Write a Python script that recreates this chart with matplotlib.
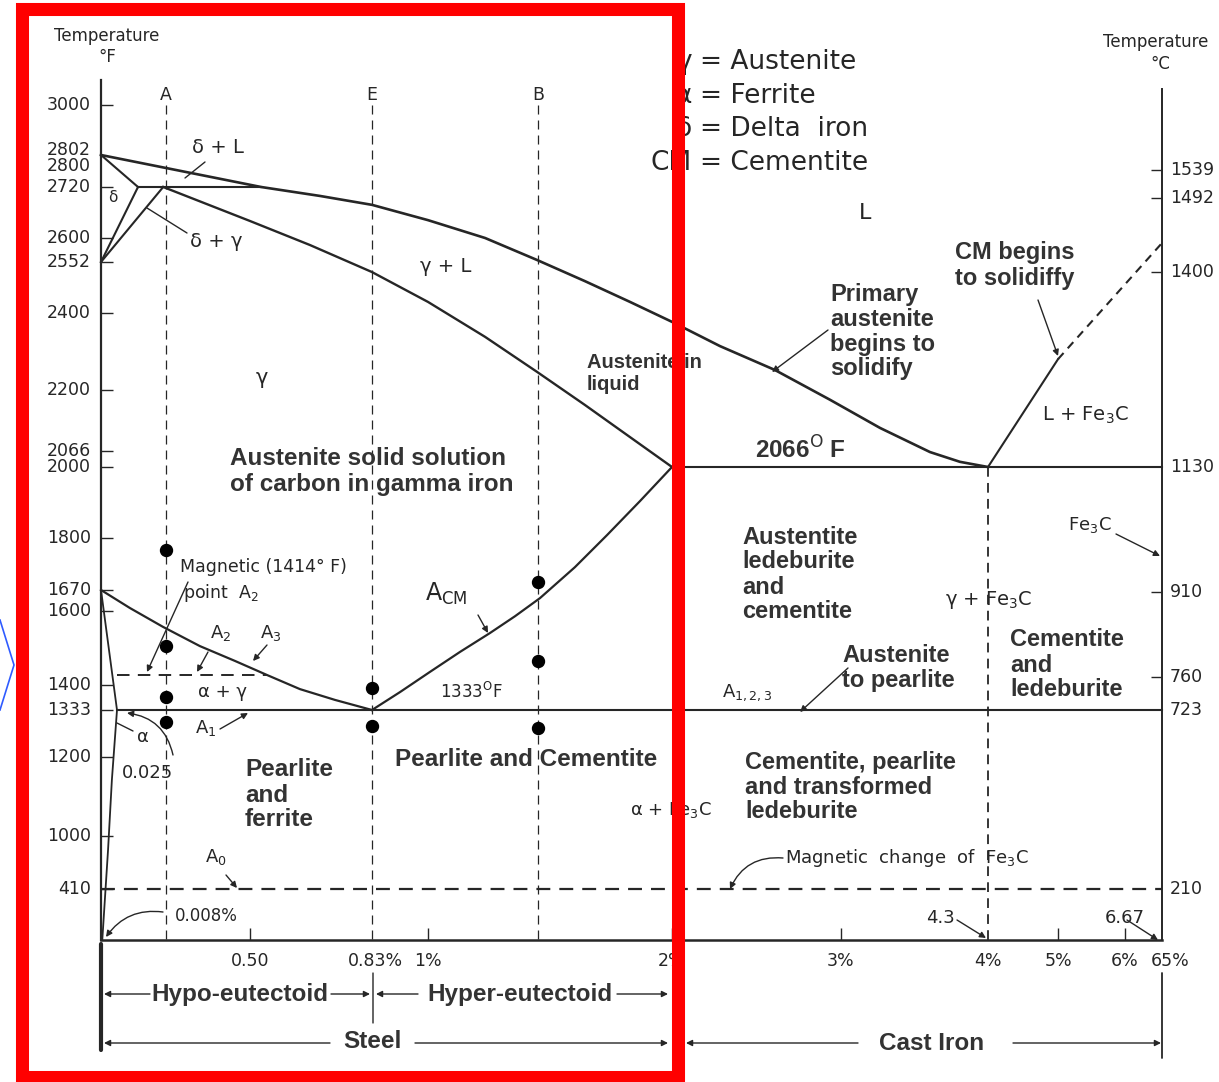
import numpy as np
import matplotlib.pyplot as plt
from matplotlib.lines import Line2D
from matplotlib.markers import TICKLEFT, TICKRIGHT, TICKUP
from matplotlib.patches import Rectangle
from matplotlib.transforms import offset_copy

W, H = 1219, 1082
INK = '#262626'
THIN = 'DejaVu Sans'
BOLD = 'Liberation Sans'
plt.rcParams['lines.scale_dashes'] = False

# ---------------------------------------------------------------------------
# phase boundaries, carbon wt% vs temperature (deg F)
liquidus_c = [0.0, 0.53, 0.689, 0.83, 1.0, 1.234, 1.447, 1.643, 1.828, 2.0, 2.284,
              2.609, 2.935, 3.345, 3.787, 4.052, 4.3]
liquidus_f = [2802, 2720, 2699, 2678, 2642, 2600, 2556, 2495, 2433, 2377, 2314,
              2252, 2183, 2134, 2092, 2075, 2066]
solidus_c = [0.19, 0.5, 0.662, 0.83, 1.0, 1.234, 1.447, 1.643, 1.828, 2.0]
solidus_f = [2720, 2640, 2586, 2522, 2433, 2338, 2247, 2174, 2118, 2066]
delta_top_c = [0.0, 0.10]
delta_top_f = [2802, 2720]
delta_low_c = [0.10, 0.0]
delta_low_f = [2720, 2552]
gamma_delta_c = [0.0, 0.19]
gamma_delta_f = [2552, 2720]
peritectic_c = [0.10, 0.53]
peritectic_f = [2720, 2720]
acm_c = [2.0, 1.869, 1.734, 1.602, 1.459, 1.357, 1.254, 1.131, 1.008, 0.915, 0.83]
acm_f = [2066, 1912, 1809, 1727, 1643, 1585, 1536, 1481, 1423, 1381, 1333]
a3_c = [0.0, 0.071, 0.189, 0.321, 0.446, 0.546, 0.635, 0.730, 0.83]
a3_f = [1670, 1610, 1554, 1498, 1455, 1414, 1389, 1360, 1333]
ferrite_c = [0.0, 0.025]
ferrite_f = [1670, 1333]
solvus_c = [0.025, 0.017, 0.011, 0.005, 0.002]
solvus_f = [1333, 1142, 844, 241, 0]
eutectoid_c = [0.025, 6.67]
eutectoid_f = [1333, 1333]
eutectic_c = [2.0, 6.67]
eutectic_f = [2066, 2066]
cm_liq_c = [4.3, 5.0]
cm_liq_f = [2066, 2280]
cm_liq_dash_c = [5.0, 6.67]
cm_liq_dash_f = [2280, 2590]
magnetic_a2_c = [0.025, 0.546]
magnetic_a2_f = [1414, 1414]
magnetic_a0_c = [0.0, 6.67]
magnetic_a0_f = [410, 410]
eutectic_comp = 4.3

# example alloys A, E, B and their marked states
alloy_names = ['A', 'E', 'B']
alloy_c = [0.2, 0.83, 1.45]
dot_c = [0.2, 0.2, 0.2, 0.2, 0.83, 0.83, 1.45, 1.45, 1.45]
dot_f = [1770, 1498, 1368, 1299, 1392, 1288, 1690, 1455, 1282]

# axis ticks
left_ticks = [3000, 2802, 2800, 2720, 2600, 2552, 2400, 2200, 2066, 2000,
              1800, 1670, 1600, 1400, 1333, 1200, 1000, 410]
right_ticks_c = [1539, 1492, 1400, 1130, 910, 760, 723, 210]
right_marks_c = [1539, 1492, 1400, 910, 760]
bottom_labels = ['0.50', '0.83%', '1%', '2%', '3%', '4%', '5%', '6%', '65%']
bottom_label_c = [0.5, 0.83, 1.0, 2.0, 3.0, 4.3, 5.0, 6.0, 6.67]
bottom_tick_c = [0.5, 1.0, 2.0, 3.0, 5.0, 6.0]

legend_symbols = ['\u03b3', '\u03b1', '\u03b4', 'CM']
legend_names = ['Austenite', 'Ferrite', 'Delta  iron', 'Cementite']

# ---------------------------------------------------------------------------
# the source drawing uses schematic (piecewise) axes: knots -> figure pixels
C_KNOTS = [0, 0.025, 0.5, 0.83, 1.0, 2.0, 3.0, 4.3, 5.0, 6.0, 6.67]
C_PIX = [101, 117, 250, 372, 428, 672, 841, 988, 1058, 1125, 1162]
F_KNOTS = [0, 410, 1000, 1200, 1333, 1400, 1414, 1600, 1670, 1800, 2000,
           2066, 2200, 2400, 2552, 2600, 2720, 2802, 3000]
F_PIX = [940, 889, 836, 757, 710, 685, 675, 611, 590, 538, 472,
         467, 390, 313, 262, 238, 187, 155, 105]
DEG_C_KNOTS = [0, 210, 723, 760, 910, 1130, 1400, 1492, 1539]
DEG_C_PIX = [940, 889, 710, 677, 592, 467, 272, 198, 170]


def piecewise(src, dst):
    src = np.asarray(src, float)
    dst = np.asarray(dst, float)
    lo = (dst[1] - dst[0]) / (src[1] - src[0])
    hi = (dst[-1] - dst[-2]) / (src[-1] - src[-2])

    def f(v):
        v = np.asarray(v, float)
        out = np.interp(v, src, dst)
        out = np.where(v < src[0], dst[0] + (v - src[0]) * lo, out)
        out = np.where(v > src[-1], dst[-1] + (v - src[-1]) * hi, out)
        return out
    return f


up_f = H - np.array(F_PIX, float)
up_c = H - np.array(DEG_C_PIX, float)
cx_fwd, cx_inv = piecewise(C_KNOTS, C_PIX), piecewise(C_PIX, C_KNOTS)
tf_fwd, tf_inv = piecewise(F_KNOTS, up_f), piecewise(up_f, F_KNOTS)
tc_fwd, tc_inv = piecewise(DEG_C_KNOTS, up_c), piecewise(up_c, DEG_C_KNOTS)

fig = plt.figure(figsize=(W / 100, H / 100), dpi=100)
ax = fig.add_axes([0, 0, 1, 1])
ax.set_xscale('function', functions=(cx_fwd, cx_inv))
ax.set_yscale('function', functions=(tf_fwd, tf_inv))
ax.axis('off')
ax2 = ax.twinx()
ax2.set_yscale('function', functions=(tc_fwd, tc_inv))
ax2.axis('off')

# frame of the diagram
ax.plot([0, 0], [0, 3100], color=INK, lw=1.6)
ax.plot([0, 6.67], [0, 0], color=INK, lw=1.8)
ax.plot([6.67, 6.67], [0, 3065], color=INK, lw=1.4)

# phase boundaries
kw = dict(color=INK, solid_joinstyle='round')
ax.plot(liquidus_c, liquidus_f, lw=1.9, **kw)
ax.plot(solidus_c, solidus_f, lw=1.7, **kw)
for cs, fs in [(delta_top_c, delta_top_f), (delta_low_c, delta_low_f),
               (gamma_delta_c, gamma_delta_f), (peritectic_c, peritectic_f)]:
    ax.plot(cs, fs, lw=1.5, **kw)
ax.plot(acm_c, acm_f, lw=1.6, **kw)
ax.plot(a3_c, a3_f, lw=1.6, **kw)
ax.plot(ferrite_c, ferrite_f, lw=1.3, **kw)
ax.plot(solvus_c, solvus_f, lw=1.3, **kw)
ax.plot(eutectoid_c, eutectoid_f, lw=1.5, **kw)
ax.plot(eutectic_c, eutectic_f, lw=1.5, **kw)
ax.plot(cm_liq_c, cm_liq_f, lw=1.5, **kw)
ax.plot(cm_liq_dash_c, cm_liq_dash_f, color=INK, lw=1.5, dashes=(6, 4.5))
ax.plot(magnetic_a2_c, magnetic_a2_f, color=INK, lw=1.4, dashes=(9, 6))
ax.plot(magnetic_a0_c, magnetic_a0_f, color=INK, lw=1.6, dashes=(10, 6.5))
ax.plot([eutectic_comp] * 2, [2066, 0], color=INK, lw=1.3, dashes=(7, 4.5))

for name, c in zip(alloy_names, alloy_c):
    ax.plot([c, c], [3000, 0], color=INK, lw=0.9, dashes=(6.5, 4.3))
    ax.annotate(name, xy=(c, 3000), xytext=(0, 7), textcoords='offset points',
                ha='center', va='center', fontsize=12.5, family=THIN, color=INK)
ax.plot(dot_c, dot_f, 'o', ms=8.6, color='black')

# axis ticks and labels (stacked labels are spread apart as in the drawing)
nudge = {2802: -5, 2800: 10, 2066: -16, 2000: -5}
for t in left_ticks:
    dy = nudge.get(t, 0)
    ax.annotate(str(t), xy=(91, t), xycoords=('figure pixels', 'data'),
                xytext=(0, -dy * 0.72), textcoords='offset points',
                ha='right', va='center', fontsize=12.5, family=THIN, color=INK)
    if t not in (2802, 2800):
        trans = offset_copy(ax.transData, fig=fig, x=0, y=-dy * 0.72, units='points')
        ax.plot([0], [t], ls='none', marker=TICKRIGHT, ms=8.5, mew=1.0,
                color=INK, transform=trans)
for t in right_ticks_c:
    ax2.annotate(str(t), xy=(1170, t), xycoords=('figure pixels', 'data'),
                 ha='left', va='center', fontsize=12.5, family=THIN, color=INK)
ax2.plot([6.67] * len(right_marks_c), right_marks_c, ls='none', marker=TICKLEFT,
         ms=8, mew=1.0, color=INK)
ax.plot(bottom_tick_c, [0] * len(bottom_tick_c), ls='none', marker=TICKUP,
        ms=9, mew=1.0, color=INK)
for lab, c in zip(bottom_labels, bottom_label_c):
    dx = 8 if lab == '65%' else (3 if lab == '0.83%' else 0)
    ax.annotate(lab, xy=(c, H - 961), xycoords=('data', 'figure pixels'),
                xytext=(dx * 0.72, 0), textcoords='offset points',
                ha='center', va='center', fontsize=12.5, family=THIN, color=INK)

ax.set_xlim(float(cx_inv(0)), float(cx_inv(W)))
ax.set_ylim(float(tf_inv(0)), float(tf_inv(H)))
ax2.set_ylim(float(tc_inv(0)), float(tc_inv(H)))


# ---------------------------------------------------------------------------
def put(x, y, s, size=13.5, bold=False, ha='left', va='center', dy=25):
    for i, line in enumerate(s.split('\n')):
        fig.text(x / W, 1 - (y + i * dy) / H, line, fontsize=size,
                 family=BOLD if bold else THIN,
                 fontweight='bold' if bold else 'normal',
                 color='#333333' if bold else INK, ha=ha, va=va)


def arrow(x0, y0, x1, y1, head=True, rad=0.0, lw=1.0):
    ax.annotate('', xy=(x1, H - y1), xycoords='figure pixels',
                xytext=(x0, H - y0), textcoords='figure pixels',
                arrowprops=dict(arrowstyle='-|>' if head else '-', color=INK,
                                lw=lw, shrinkA=0, shrinkB=0, mutation_scale=9,
                                connectionstyle=f'arc3,rad={rad}'))


# axis titles
put(107, 36, 'Temperature', 12, ha='center')
put(107, 57, '\u00b0F', 12, ha='center')
put(1103, 42, 'Temperature', 12)
put(1160, 64, '\u00b0C', 12, ha='center')

# legend of symbols
for i, (sym, name) in enumerate(zip(legend_symbols, legend_names)):
    y = 62 + i * 33.5
    put(692, y, sym, 19, ha='right')
    put(700, y, '= ' + name, 19)

# phase field labels (thin)
put(192, 147, '\u03b4 + L', 14)
put(113, 197, '\u03b4', 11, ha='center')
put(190, 242, '\u03b4 + \u03b3', 14)
put(262, 378, '\u03b3', 15, ha='center')
put(420, 266, '\u03b3 + L', 14)
put(865, 213, 'L', 16, ha='center')
put(1042, 415, 'L + Fe$_3$C', 14)
put(1068, 525, 'Fe$_3$C', 13)
put(945, 600, '\u03b3 + Fe$_3$C', 14)
put(722, 693, 'A$_{1,2,3}$', 13)
put(785, 858, 'Magnetic  change  of  Fe$_3$C', 13)
put(955, 918, '4.3', 13, ha='right')
put(1105, 918, '6.67', 13)
put(630, 810, '\u03b1 + Fe$_3$C', 13)
put(440, 692, '1333$^\\mathrm{O}$F', 12)
put(180, 567, 'Magnetic (1414\u00b0 F)', 12.5)
put(183, 593, 'point  A$_2$', 12.5)
put(210, 633, 'A$_2$', 13)
put(260, 633, 'A$_3$', 13)
put(198, 692, '\u03b1 + \u03b3', 13)
put(195, 728, 'A$_1$', 13)
put(137, 737, '\u03b1', 13)
put(122, 773, '0.025', 13)
put(205, 857, 'A$_0$', 13)
put(175, 916, '0.008%', 12)
put(425, 594, 'A$_{\\mathrm{CM}}$', 17)

# explanatory labels (bold)
put(230, 459, 'Austenite solid solution\nof carbon in gamma iron', 17.5, True, dy=26)
put(587, 363, 'Austenite in\nliquid', 14.5, True, dy=22)
put(955, 253, 'CM begins\nto solidiffy', 17, True, dy=26)
put(830, 294, 'Primary\naustenite\nbegins to\nsolidify', 17, True, dy=25)
put(755, 450, '2066$^\\mathrm{O}$ F', 17.5, True)
put(742, 537, 'Austentite\nledeburite\nand\ncementite', 17, True, dy=25)
put(1010, 640, 'Cementite\nand\nledeburite', 17, True, dy=25)
put(842, 655, 'Austenite\nto pearlite', 17, True, dy=25)
put(745, 762, 'Cementite, pearlite\nand transformed\nledeburite', 17, True, dy=25)
put(526, 760, 'Pearlite and Cementite', 17.5, True, ha='center')
put(245, 770, 'Pearlite\nand\nferrite', 17.5, True, dy=25)

# pointers
arrow(205, 162, 185, 178, head=False)
arrow(187, 233, 147, 208, head=False)
arrow(188, 582, 147, 672)
arrow(208, 652, 197, 672)
arrow(267, 645, 253, 661)
arrow(220, 729, 248, 713)
arrow(117, 723, 133, 731, head=False)
arrow(173, 755, 127, 713, rad=0.35)
arrow(478, 615, 488, 633)
arrow(163, 912, 106, 937, rad=0.3)
arrow(226, 875, 237, 888)
arrow(783, 858, 730, 889, rad=0.35)
arrow(957, 920, 986, 938)
arrow(1127, 920, 1158, 940)
arrow(1116, 534, 1160, 556)
arrow(848, 668, 800, 712)
arrow(828, 330, 772, 372)
arrow(1038, 300, 1058, 356)

# steel / cast iron ranges below the axis
put(240, 994, 'Hypo-eutectoid', 17.5, True, ha='center')
put(520, 994, 'Hyper-eutectoid', 17.5, True, ha='center')
put(372, 1042, 'Steel', 17.5, True, ha='center')
put(932, 1043, 'Cast Iron', 17.5, True, ha='center')
arrow(150, 994, 104, 994)
arrow(331, 994, 370, 994)
arrow(418, 994, 376, 994)
arrow(617, 994, 668, 994)
arrow(330, 1043, 104, 1043)
arrow(415, 1043, 668, 1043)
arrow(858, 1043, 686, 1043)
arrow(1013, 1043, 1161, 1043)
arrow(373, 973, 373, 1023, head=False)
arrow(1162, 973, 1162, 1058, head=False, lw=1.3)
arrow(101, 944, 101, 1050, head=False, lw=3.0)

# highlight frame and marker from the source screenshot
fig.add_artist(Rectangle((21.5 / W, 1 - 1077 / H), (678 - 21.5) / W, (1077 - 8.5) / H,
                         transform=fig.transFigure, fill=False, ec='#ff0000',
                         lw=9.4, zorder=100))
fig.add_artist(Line2D([0, 14 / W, 0], [1 - 620 / H, 1 - 665 / H, 1 - 710 / H],
                      transform=fig.transFigure, color='#2f5bff', lw=1.2, zorder=100))

fig.savefig('out.png', dpi=100)
